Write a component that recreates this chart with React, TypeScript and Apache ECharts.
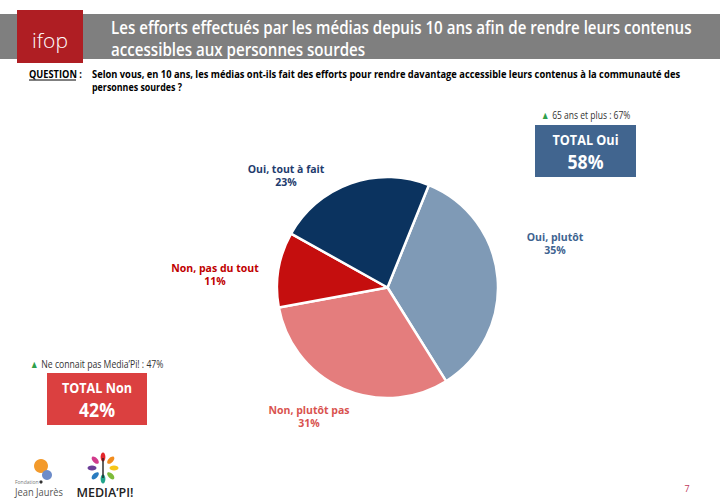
import React, { useEffect, useRef } from "react";
import * as echarts from "echarts";

const categories = ["Oui, plutôt", "Non, plutôt pas", "Non, pas du tout", "Oui, tout à fait"];
const values = [35, 31, 11, 23];
const sliceColors = ["#7F9AB6", "#E47D7D", "#C50E0E", "#0B335F"];
const labelColors = ["#3E6390", "#D9534F", "#C00000", "#1F3C6E"];
const labelPos: number[][] = [
  [555, 243],
  [309, 416],
  [215, 274],
  [286, 175],
];
const title1 = "Les efforts effectués par les médias depuis 10 ans afin de rendre leurs contenus";
const title2 = "accessibles aux personnes sourdes";
const question1 =
  "Selon vous, en 10 ans, les médias ont-ils fait des efforts pour rendre davantage accessible leurs contenus à la communauté des";
const question2 = "personnes sourdes ?";
const totalOui = "58%";
const totalNon = "42%";
const noteOui = "65 ans et plus : 67%";
const noteNon = "Ne connait pas Media’Pi! : 47%";

const FONT = "'Open Sans', sans-serif";

function measure(text: string, font: string): number {
  const c = document.createElement("canvas").getContext("2d")!;
  c.font = font;
  return c.measureText(text).width;
}
function fit(text: string, font: string, target: number): number {
  const w = measure(text, font);
  return w > 0 ? target / w : 1;
}

export default function App() {
  const ref = useRef<HTMLDivElement>(null);
  useEffect(() => {
    document.body.style.margin = "0";
    const chart = echarts.init(ref.current!, null, { renderer: "svg" });
    const petalColors = ["#E3262B", "#F28C1E", "#F6C619", "#7DBB3A", "#20A48B", "#2A7BC0", "#6C3F98", "#D23A8C"];
    const petals: any[] = [];
    petalColors.forEach((c, i) => {
      const a = (i / petalColors.length) * Math.PI * 2 - Math.PI / 2;
      const r = 11;
      petals.push({
        type: "ellipse",
        x: 103 + Math.cos(a) * r,
        y: 468 + Math.sin(a) * r,
        rotation: -a - Math.PI / 2,
        shape: { cx: 0, cy: 0, rx: 2.4, ry: 4.5 },
        style: { fill: c },
      });
    });

    const titleFont = `600 18px ${FONT}`;
    const titleScale = fit(title1, titleFont, 581);
    const qFont = `bold 11px ${FONT}`;
    const q1Scale = fit(question1, qFont, 589);
    const q2Scale = fit(question2, qFont, 90);
    const qlScale = fit("QUESTION :", qFont, 53);
    const noteFont = `10.5px ${FONT}`;
    const noteOuiScale = fit("▲ " + noteOui, noteFont, 89);
    const noteNonScale = fit("▲ " + noteNon, noteFont, 133);
    const boxFont = `bold 15px ${FONT}`;
    const ouiScale = fit("TOTAL Oui", boxFont, 66);
    const nonScale = fit("TOTAL Non", boxFont, 70);
    const pctFont = `bold 20px ${FONT}`;
    const pctScale = fit(totalOui, pctFont, 36);
    const jjFont = `11px ${FONT}`;
    const jjScale = fit("Jean Jaurès", jjFont, 48);

    const option: any = {
      animation: false,
      backgroundColor: "#ffffff",
      series: [
        {
          type: "pie",
          center: [387.5, 287.5],
          radius: 110.5,
          startAngle: 68,
          clockwise: true,
          avoidLabelOverlap: false,
          itemStyle: { borderColor: "#ffffff", borderWidth: 2.5 },
          labelLine: { show: false },
          label: {
            show: true,
            position: "outside",
            formatter: "{b}\n{c}%",
            fontFamily: FONT,
            fontWeight: "bold",
            fontSize: 10.5,
            lineHeight: 13,
            align: "center",
          },
          labelLayout: (p: any) => ({
            x: labelPos[p.dataIndex][0],
            y: labelPos[p.dataIndex][1],
            align: "center",
            verticalAlign: "middle",
          }),
          emphasis: { disabled: true },
          data: categories.map((name, i) => ({
            name,
            value: values[i],
            itemStyle: { color: sliceColors[i] },
            label: { color: labelColors[i] },
          })),
        },
      ],
      graphic: [
        { type: "rect", shape: { x: 0, y: 14, width: 720, height: 45 }, style: { fill: "#7F7F7F" } },
        { type: "rect", shape: { x: 17, y: 10, width: 66, height: 53 }, style: { fill: "#AF1E23" } },
        {
          type: "text",
          x: 50,
          y: 40,
          style: { text: "ifop", fill: "#ffffff", font: "300 21px 'Open Sans', sans-serif", align: "center", verticalAlign: "middle" },
        },
        {
          type: "text",
          x: 111,
          y: 27,
          scaleX: titleScale,
          style: { text: title1, fill: "#ffffff", font: titleFont, verticalAlign: "middle" },
        },
        {
          type: "text",
          x: 111,
          y: 49,
          scaleX: titleScale,
          style: { text: title2, fill: "#ffffff", font: titleFont, verticalAlign: "middle" },
        },
        {
          type: "text",
          x: 29,
          y: 74,
          scaleX: qlScale,
          style: { text: "QUESTION :", fill: "#000000", font: qFont, verticalAlign: "middle" },
        },
        { type: "line", shape: { x1: 29, y1: 80, x2: 76, y2: 80 }, style: { stroke: "#000", lineWidth: 1 } },
        {
          type: "text",
          x: 92,
          y: 74,
          scaleX: q1Scale,
          style: { text: question1, fill: "#000000", font: qFont, verticalAlign: "middle" },
        },
        {
          type: "text",
          x: 92,
          y: 87,
          scaleX: q2Scale,
          style: { text: question2, fill: "#000000", font: qFont, verticalAlign: "middle" },
        },
        // TOTAL Oui
        {
          type: "text",
          x: 541,
          y: 115,
          scaleX: noteOuiScale,
          style: {
            text: "{t|▲} {n|" + noteOui + "}",
            verticalAlign: "middle",
            rich: {
              t: { fill: "#2FA04A", font: noteFont },
              n: { fill: "#333333", font: noteFont },
            },
          },
        },
        { type: "rect", shape: { x: 535, y: 125, width: 101, height: 52 }, style: { fill: "#41658F" } },
        {
          type: "text",
          x: 585.5,
          y: 139,
          scaleX: ouiScale,
          style: { text: "TOTAL Oui", fill: "#fff", font: boxFont, align: "center", verticalAlign: "middle" },
        },
        {
          type: "text",
          x: 585.5,
          y: 162,
          scaleX: pctScale,
          style: { text: totalOui, fill: "#fff", font: pctFont, align: "center", verticalAlign: "middle" },
        },
        // TOTAL Non
        {
          type: "text",
          x: 30,
          y: 364,
          scaleX: noteNonScale,
          style: {
            text: "{t|▲} {n|" + noteNon + "}",
            verticalAlign: "middle",
            rich: {
              t: { fill: "#2FA04A", font: noteFont },
              n: { fill: "#333333", font: noteFont },
            },
          },
        },
        { type: "rect", shape: { x: 47, y: 373, width: 100, height: 52 }, style: { fill: "#DB4040" } },
        {
          type: "text",
          x: 97,
          y: 387,
          scaleX: nonScale,
          style: { text: "TOTAL Non", fill: "#fff", font: boxFont, align: "center", verticalAlign: "middle" },
        },
        {
          type: "text",
          x: 97,
          y: 410,
          scaleX: pctScale,
          style: { text: totalNon, fill: "#fff", font: pctFont, align: "center", verticalAlign: "middle" },
        },
        // Jean Jaures logo
        { type: "circle", shape: { cx: 41, cy: 466, r: 7 }, style: { fill: "#F39A2B" } },
        { type: "circle", shape: { cx: 47, cy: 475, r: 5 }, style: { fill: "#6D8CC9" } },
        { type: "circle", shape: { cx: 41, cy: 482, r: 1.6 }, style: { fill: "#333" } },
        {
          type: "text",
          x: 15,
          y: 482,
          style: { text: "Fondation", fill: "#777", font: `5px ${FONT}`, verticalAlign: "middle" },
        },
        {
          type: "text",
          x: 15,
          y: 492,
          scaleX: jjScale,
          style: { text: "Jean Jaurès", fill: "#555", font: jjFont, verticalAlign: "middle" },
        },
        // Media'Pi logo
        ...petals,
        { type: "rect", shape: { x: 102.3, y: 458, width: 1.4, height: 20 }, style: { fill: "#222" } },
        {
          type: "text",
          x: 105,
          y: 492,
          style: { text: "MEDIA’PI!", fill: "#222", font: `600 12.5px ${FONT}`, align: "center", verticalAlign: "middle" },
        },
        {
          type: "text",
          x: 687,
          y: 488,
          style: { text: "7", fill: "#C0385A", font: `9px ${FONT}`, align: "center", verticalAlign: "middle" },
        },
      ],
    };
    chart.setOption(option);
    return () => chart.dispose();
  }, []);
  return <div ref={ref} style={{ width: 720, height: 502 }} />;
}
